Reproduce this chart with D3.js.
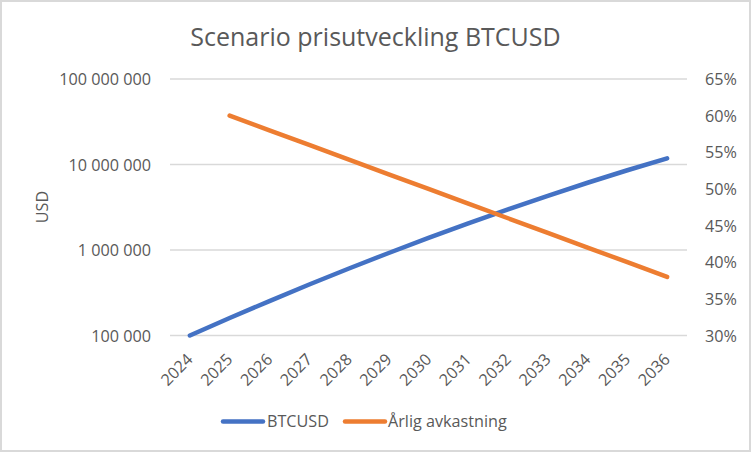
<!DOCTYPE html>
<html><head><meta charset="utf-8">
<script src="https://cdn.jsdelivr.net/npm/d3@7/dist/d3.min.js"></script>
<style>body{margin:0;background:#fff}svg{display:block}text{font-family:"Open Sans",sans-serif;fill:#595959}</style>
</head><body>
<svg id="c" width="751" height="452"></svg>
<script>
const years = ["2024","2025","2026","2027","2028","2029","2030","2031","2032","2033","2034","2035","2036"];
const btcusd = [100000,160000,252800,394400,607300,923100,1384700,2049400,2992100,4308600,6118200,8565500,11820300];
const returnYears = ["2025","2026","2027","2028","2029","2030","2031","2032","2033","2034","2035","2036"];
const annualReturn = [0.60,0.58,0.56,0.54,0.52,0.50,0.48,0.46,0.44,0.42,0.40,0.38];
const leftTicks = [100000,1000000,10000000,100000000];
const rightTicks = [0.30,0.35,0.40,0.45,0.50,0.55,0.60,0.65];
const title = "Scenario prisutveckling BTCUSD";
const seriesNames = ["BTCUSD","Årlig avkastning"];
const colors = ["#4472C4","#ED7D31"];

const svg = d3.select("#c");
const W=751,H=452;
svg.append("rect").attr("x",1).attr("y",1).attr("width",W-2).attr("height",H-2)
  .attr("fill","#fff").attr("stroke","#d9d9d9").attr("stroke-width",2);

const L=170,R=687,T=79,B=335.5;
const x = d3.scaleBand().domain(years).range([L,R]);
const cx = d => x(d)+x.bandwidth()/2;
const yL = d3.scaleLog().domain([100000,100000000]).range([B,T]);
const yR = d3.scaleLinear().domain([0.30,0.65]).range([B,T]);

// gridlines
svg.append("g").selectAll("line").data(leftTicks).join("line")
  .attr("x1",L).attr("x2",R).attr("y1",d=>yL(d)).attr("y2",d=>yL(d))
  .attr("stroke","#d9d9d9").attr("stroke-width",1.3);

const fmt = d => d3.format(",")(d).replace(/,/g," ");
// left axis
const gl = svg.append("g").attr("transform",`translate(${L-19},0)`)
  .call(d3.axisLeft(yL).tickValues(leftTicks).tickFormat(fmt).tickSize(0).tickPadding(0));
gl.select(".domain").remove();
gl.selectAll("text").style("font-size","16.2px").attr("dy","0.35em");

// right axis
const gr = svg.append("g").attr("transform",`translate(${R+18},0)`)
  .call(d3.axisRight(yR).tickValues(rightTicks).tickFormat(d3.format(".0%")).tickSize(0).tickPadding(0));
gr.select(".domain").remove();
gr.selectAll("text").style("font-size","16.2px").attr("dy","0.35em");

// x axis
const gx = svg.append("g").attr("transform",`translate(0,${B})`)
  .call(d3.axisBottom(x).tickSize(0).tickPadding(0));
gx.select(".domain").remove();
gx.selectAll("text").style("font-size","16.2px").attr("text-anchor","end")
  .attr("transform","translate(-4,17) rotate(-45)").attr("dy","0.7em").attr("y",0);

// USD label
svg.append("text").attr("transform",`translate(48,207) rotate(-90)`).attr("text-anchor","middle")
  .style("font-size","16.2px").text("USD");

// title
svg.append("text").attr("x",375.5).attr("y",46).attr("text-anchor","middle")
  .style("font-size","25px").text(title);

// lines
svg.append("path").datum(years.map((y,i)=>[cx(y),yL(btcusd[i])]))
  .attr("d",d3.line()).attr("fill","none").attr("stroke",colors[0]).attr("stroke-width",4.5)
  .attr("stroke-linecap","round").attr("stroke-linejoin","round");
svg.append("path").datum(returnYears.map((y,i)=>[cx(y),yR(annualReturn[i])]))
  .attr("d",d3.line()).attr("fill","none").attr("stroke",colors[1]).attr("stroke-width",4.5)
  .attr("stroke-linecap","round").attr("stroke-linejoin","round");

// legend
const lg = [{x:223,tx:267},{x:345,tx:388}];
seriesNames.forEach((n,i)=>{
  svg.append("line").attr("x1",lg[i].x).attr("x2",lg[i].x+40).attr("y1",421.5).attr("y2",421.5)
    .attr("stroke",colors[i]).attr("stroke-width",4.5).attr("stroke-linecap","round");
  svg.append("text").attr("x",lg[i].tx).attr("y",421.5).attr("dy","0.35em")
    .style("font-size","16.2px").text(n);
});
</script>
</body></html>
